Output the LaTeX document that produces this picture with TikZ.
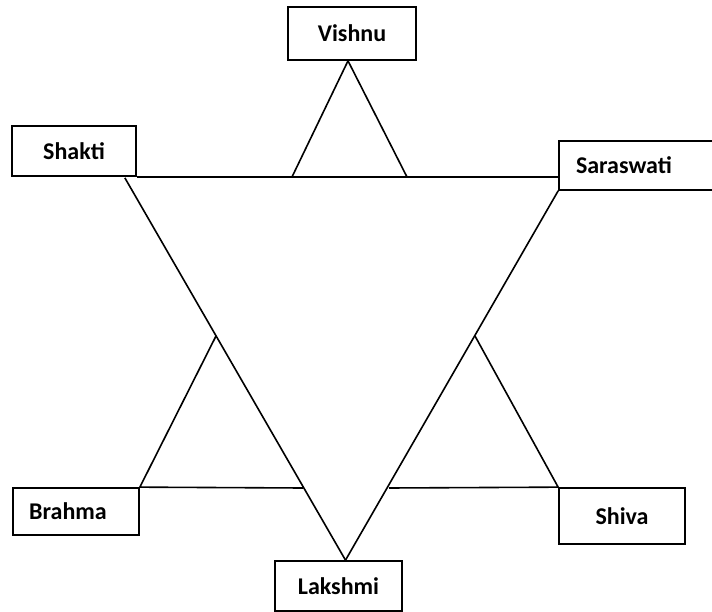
\documentclass[tikz,border=0pt]{standalone}
\usepackage{fontspec}
\setmainfont{Carlito}
\usetikzlibrary{calc}
\begin{document}
\begin{tikzpicture}[x=1pt,y=-1pt,
  box/.style={draw, line width=1.7pt, fill=white, inner sep=0pt,
    font=\bfseries\fontsize{24}{28}\selectfont},
  link/.style={line width=1.6pt}]
\useasboundingbox (0,0) rectangle (712,612);
% boxes
\node[box, minimum width=128, minimum height=53] (vishnu) at (352,33.5) {Vishnu};
\node[box, minimum width=124, minimum height=50] (shakti) at (74,151) {Shakti};
\node[box, minimum height=49, text width=127pt, inner xsep=17pt, align=left] (saraswati) at (639.5,165.5) {Saraswati};
\node[box, minimum width=126, minimum height=47] (brahma) at (76,511.5) {\hspace*{-16pt}Brahma};
\node[box, minimum width=126, minimum height=56] (shiva) at (622,516) {Shiva};
\node[box, minimum width=127, minimum height=50] (lakshmi) at (338.5,586) {Lakshmi};
% helper points
\coordinate (shaktifoot) at ($(shakti.south east)+(-12,1)$);
\coordinate (lakshmitop) at ($(lakshmi.north)+(7,0)$);
\coordinate (vleft) at (292,177);
\coordinate (vright) at (407,177);
\coordinate (bapex) at (216,336);
\coordinate (sapex) at (475,336);
\coordinate (bcross) at (303,488);
\coordinate (scross) at (389,488);
% big triangle
\draw[link] (shakti.south east |- vleft) -- (saraswati.west |- vleft);
\draw[link] (shaktifoot) -- (lakshmitop);
\draw[link] (saraswati.south west) -- (lakshmitop);
% Vishnu triangle
\draw[link] (vleft) -- ($(vishnu.south)+(-4,0)$) -- (vright);
% Brahma triangle
\draw[link] (bapex) -- (brahma.north east) -- (bcross);
% Shiva triangle
\draw[link] (sapex) -- (shiva.north west) -- (scross);
\end{tikzpicture}
\end{document}
